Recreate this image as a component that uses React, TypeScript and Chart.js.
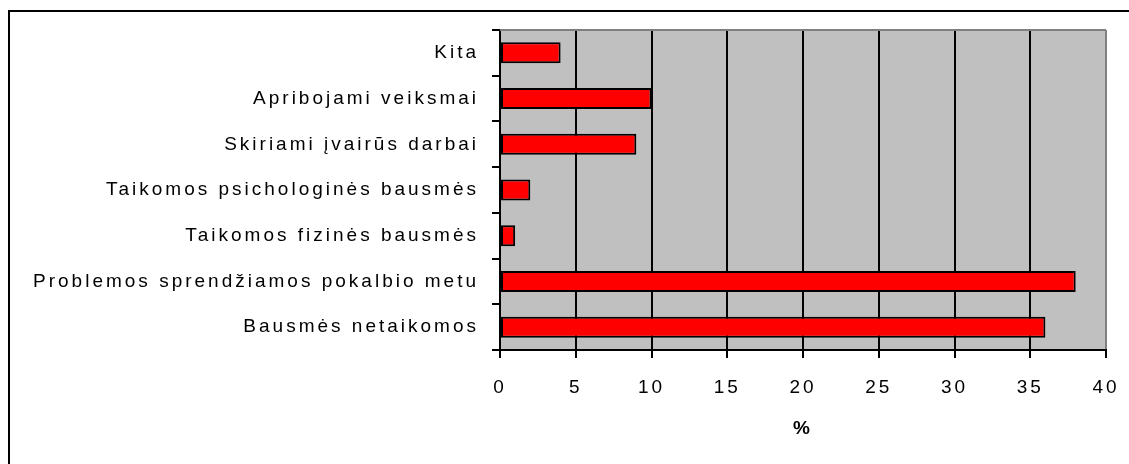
import React, { useEffect, useRef } from 'react';
import { Chart, registerables } from 'chart.js';

Chart.register(...registerables);

const categories = [
  'Kita',
  'Apribojami veiksmai',
  'Skiriami įvairūs darbai',
  'Taikomos psichologinės bausmės',
  'Taikomos fizinės bausmės',
  'Problemos sprendžiamos pokalbio metu',
  'Bausmės netaikomos',
];
const values = [4, 10, 9, 2, 1, 38, 36];
const xMin = 0;
const xMax = 40;
const xStep = 5;
const axisTitle = '%';

const FONT = "'Liberation Sans', Arial, sans-serif";

const decor = {
  id: 'decor',
  beforeDraw(chart: any) {
    const { ctx, chartArea: a } = chart;
    ctx.letterSpacing = '3px';
    ctx.save();
    ctx.fillStyle = '#C0C0C0';
    ctx.fillRect(a.left, a.top, a.right - a.left, a.bottom - a.top);
    ctx.restore();
  },
  beforeDatasetsDraw(chart: any) {
    const { ctx, chartArea: a } = chart;
    ctx.save();
    ctx.fillStyle = '#808080';
    ctx.fillRect(a.left, a.top - 1, a.right - a.left, 2);
    ctx.restore();
  },
  afterDraw(chart: any) {
    const { ctx, width, height } = chart;
    ctx.save();
    ctx.fillStyle = '#000';
    ctx.fillRect(8, 10, 2, height - 10);
    ctx.fillRect(8, 10, width - 8, 2);
    ctx.restore();
  },
};

export default function App() {
  const ref = useRef<HTMLCanvasElement>(null);
  useEffect(() => {
    if (!ref.current) return;
    const chart = new Chart(ref.current, {
      type: 'bar',
      data: {
        labels: categories,
        datasets: [
          {
            data: values,
            backgroundColor: '#FF0000',
            borderColor: '#000000',
            borderWidth: 2,
            borderSkipped: false,
            categoryPercentage: 1,
            barPercentage: 0.46,
          },
        ],
      },
      options: {
        indexAxis: 'y',
        animation: false,
        responsive: true,
        maintainAspectRatio: false,
        layout: { padding: { top: 30, right: 23, left: 0, bottom: 0 } },
        plugins: {
          legend: { display: false },
          tooltip: { enabled: false },
        },
        scales: {
          x: {
            min: xMin,
            max: xMax,
            ticks: {
              stepSize: xStep,
              color: '#000',
              font: { family: FONT, size: 19 },
              padding: 18,
            },
            grid: {
              color: (c: any) => (c.tick && c.tick.value === xMax ? '#808080' : '#000'),
              tickColor: '#000',
              lineWidth: 2,
              tickLength: 8,
              drawOnChartArea: true,
            },
            border: { color: '#000', width: 2 },
            title: {
              display: true,
              text: axisTitle,
              color: '#000',
              font: { family: FONT, size: 19, weight: 'bold' },
              padding: { top: 0, bottom: 24 },
            },
            afterFit(scale: any) {
              scale.height = 114;
              scale.paddingRight = 0;
              scale.paddingLeft = 0;
            },
          },
          y: {
            ticks: {
              color: '#000',
              font: { family: FONT, size: 19 },
              padding: 13,
              autoSkip: false,
            },
            grid: {
              drawOnChartArea: false,
              color: '#000',
              tickColor: '#000',
              lineWidth: 2,
              tickLength: 8,
            },
            border: { color: '#000', width: 2 },
            afterFit(scale: any) {
              scale.width = 500;
            },
          },
        },
      },
      plugins: [decor],
    });
    return () => chart.destroy();
  }, []);
  return (
    <div style={{ position: 'fixed', left: 0, top: 0, width: 1129, height: 464, background: '#fff' }}>
      <canvas ref={ref} />
    </div>
  );
}
